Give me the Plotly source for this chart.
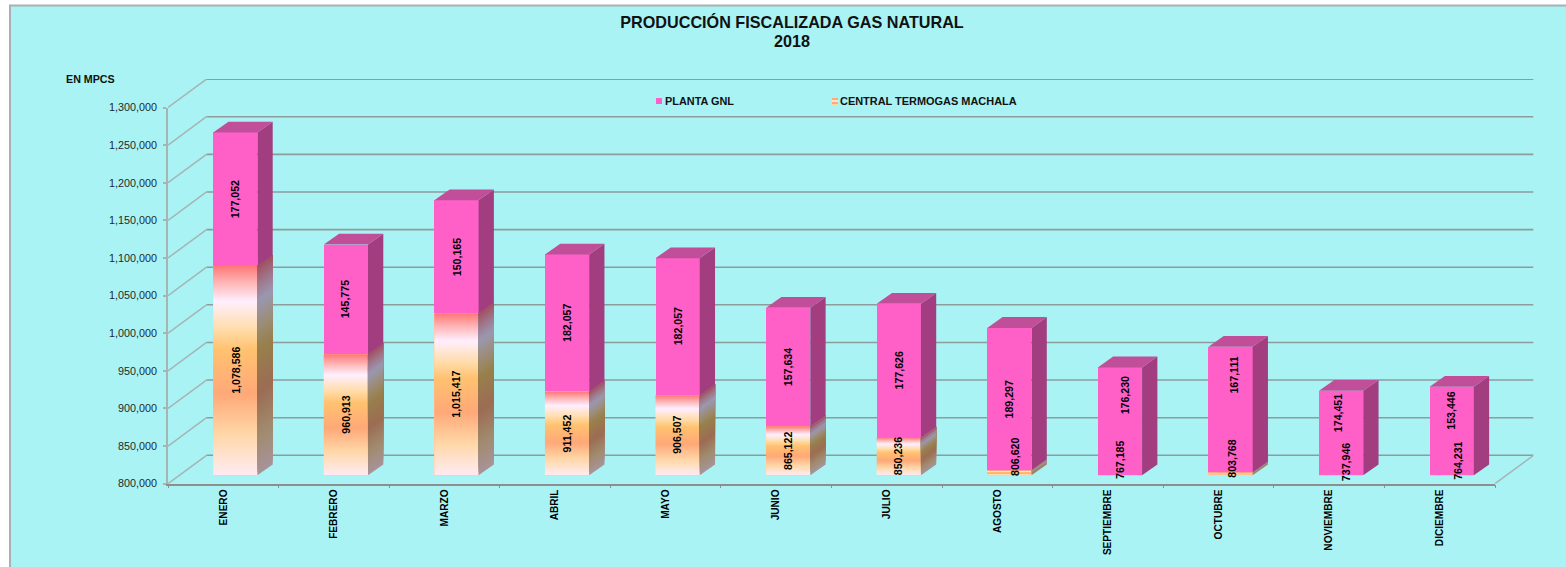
import plotly.graph_objects as go

# ---- data ----
months = ["ENERO", "FEBRERO", "MARZO", "ABRIL", "MAYO", "JUNIO", "JULIO", "AGOSTO",
          "SEPTIEMBRE", "OCTUBRE", "NOVIEMBRE", "DICIEMBRE"]
termogas = [1078586, 960913, 1015417, 911452, 906507, 865122, 850236, 806620,
            767185, 803768, 737946, 764231]
planta_gnl = [177052, 145775, 150165, 182057, 182057, 157634, 177626, 189297,
              176230, 167111, 174451, 153446]
y_ticks = [800000, 850000, 900000, 950000, 1000000, 1050000, 1100000, 1150000,
           1200000, 1250000, 1300000]

# ---- label nudges in pixels (hand-moved labels in the original) ----
low_dx = [0, 0, 0, 0, 0, 0, 0, 5.8, 0, 1.3, 5, 6.4]
low_dy = [0, 0, 0, 0, 0, 0, 0, -16, -15.3, -15, -13.3, -14.6]
top_dx = [0, 0, 0, 0, 0, 0, 0, 0, 5, 3, -3, -1]
top_dy = [0, 0, 0, 0, 0, 0, 0, 0, -26, -34.6, -20, -20]

# ---- geometry (pixels) ----
W, H = 1566, 567
FX0, FX1, FY0, FY1 = 168, 1495, 483.7, 107.5      # front plane of the axes
WALL_DX, WALL_DY = 38.5, 28.4                     # depth of the whole box
BAR_DX, BAR_DY = 12, 8.4                          # bar front plane offset
SIDE_DX, SIDE_DY = 15.3, 10.8                     # bar depth
YMIN, YMAX = y_ticks[0], y_ticks[-1]
PX_PER_CAT = (FX1 - FX0) / len(months)
PX_PER_VAL = (FY0 - FY1) / (YMAX - YMIN)
BAR_W = 0.40
XMIN, XMAX = -0.5, len(months) - 0.5


def px(x):
    return x / W


def py(y):
    return 1 - y / H


def dom_x(shift):
    return [px(FX0 + shift), px(FX1 + shift)]


def dom_y(shift):
    return [py(FY0 - shift), py(FY1 - shift)]


# ---- colours ----
BG = "#A9F3F5"
PINK = "#FF60C8"
PINK_SIDE = "#A23D80"
PINK_TOP = "#C04E98"
GRID = "#8E9C9C"
DIAG = "#A6B4B4"
FRONT_SCALE = [[0, "#FFE9F2"], [0.06, "#FFE6DC"], [0.2, "#FFD6A6"], [0.39, "#FFA878"],
               [0.6, "#FFC270"], [0.7, "#FFDDAC"], [0.83, "#FFEFFF"], [0.92, "#FFB4B4"],
               [1, "#FF7676"]]
SIDE_SCALE = [[0, "#A8939A"], [0.2, "#A08A6C"], [0.39, "#9C6C54"], [0.6, "#98804C"],
              [0.7, "#9C8C74"], [0.83, "#9A98B0"], [0.92, "#A07488"], [1, "#A05060"]]


def shade(scale, t):
    """Colour at position t of a [[pos, '#rrggbb'], ...] scale."""
    for (p0, c0), (p1, c1) in zip(scale, scale[1:]):
        if t <= p1:
            f = (t - p0) / (p1 - p0)
            a = [int(c0[j:j + 2], 16) for j in (1, 3, 5)]
            b = [int(c1[j:j + 2], 16) for j in (1, 3, 5)]
            return "rgb(%d,%d,%d)" % tuple(round(u + (w - u) * f) for u, w in zip(a, b))
    return scale[-1][1]


fig = go.Figure()

# wall subplot: left wall receding lines, back wall grid, floor (coordinates of the back plane)
dx_w = WALL_DX / PX_PER_CAT
dy_w = WALL_DY / PX_PER_VAL
diag_x, diag_y, grid_x, grid_y = [], [], [], []
for v in y_ticks:
    diag_x += [XMIN - dx_w, XMIN, None]
    diag_y += [v - dy_w, v, None]
    grid_x += [XMIN, XMAX, None]
    grid_y += [v, v, None]
diag_x += [XMAX - dx_w, XMAX, None]
diag_y += [YMIN - dy_w, YMIN, None]
fig.add_trace(go.Scatter(x=grid_x, y=grid_y, mode="lines", cliponaxis=False, hoverinfo="skip",
                         line=dict(color=GRID, width=1.6), showlegend=False, xaxis="x", yaxis="y"))
fig.add_trace(go.Scatter(x=diag_x, y=diag_y, mode="lines", cliponaxis=False, hoverinfo="skip",
                         line=dict(color=DIAG, width=1.5), showlegend=False, xaxis="x", yaxis="y"))

# front axes subplot: carries the tick labels
fig.add_trace(go.Scatter(x=months, y=[None] * len(months), mode="markers", showlegend=False,
                         hoverinfo="skip", xaxis="x2", yaxis="y2"))

# bar subplot: real stacked bars
idx = list(range(len(months)))
fig.add_trace(go.Bar(x=idx, y=termogas, name="CENTRAL TERMOGAS MACHALA", width=BAR_W, hovertext=months,
                     marker=dict(color="#FFC090", line=dict(width=0)), showlegend=False,
                     xaxis="x3", yaxis="y3"))
fig.add_trace(go.Bar(x=idx, y=planta_gnl, name="PLANTA GNL", width=BAR_W, hovertext=months,
                     marker=dict(color=PINK, line=dict(width=0)), showlegend=False,
                     xaxis="x3", yaxis="y3"))

# depth in axis units
sdx = SIDE_DX / PX_PER_CAT
sdy = SIDE_DY / PX_PER_VAL
annotations = []


def poly(xs, ys, **kw):
    fig.add_trace(go.Scatter(x=xs, y=ys, mode="lines", fill="toself", line=dict(width=0),
                             hoverinfo="skip", showlegend=False, xaxis="x3", yaxis="y3", **kw))


FONT = "Liberation Sans, Arial"
for i, m in enumerate(months):
    lo = termogas[i]
    hi = lo + planta_gnl[i]
    vis = max(lo, YMIN)
    xl, xr = i - BAR_W / 2, i + BAR_W / 2
    if lo > YMIN:
        poly([xl, xr, xr, xl, xl], [YMIN, YMIN, lo, lo, YMIN],
             fillgradient=dict(type="vertical", colorscale=FRONT_SCALE))
        # side face: slanted colour bands that follow the parallelogram, base colour first
        span = lo - YMIN
        n = max(2, round(span * PX_PER_VAL / 3))
        for k in range(n):
            b = YMIN + span * k / n
            t = lo          # each band reaches the top and is overpainted by the next one
            poly([xr, xr + sdx, xr + sdx, xr, xr], [b, b + sdy, t + sdy, t, b],
                 fillcolor=shade(SIDE_SCALE, (k + 0.5) / n))
    poly([xr, xr + sdx, xr + sdx, xr, xr], [vis, vis + sdy, hi + sdy, hi, vis], fillcolor=PINK_SIDE)
    poly([xl, xr, xr + sdx, xl + sdx, xl], [hi, hi, hi + sdy, hi + sdy, hi], fillcolor=PINK_TOP)

    label = dict(xref="x3", yref="y3", x=i, showarrow=False, textangle=-90,
                 font=dict(family=FONT, size=10.6, color="#000000", weight="bold"))
    annotations.append(dict(label, y=(YMIN + vis) / 2, text=f"{lo:,}",
                            xshift=low_dx[i], yshift=-low_dy[i]))
    annotations.append(dict(label, y=(vis + hi) / 2, text=f"{planta_gnl[i]:,}",
                            xshift=top_dx[i], yshift=-top_dy[i]))

for text, x, y, anchor, size in [("EN MPCS", 90, 79, "center", 10.7),
                                 ("PLANTA GNL", 662.7, 101, "left", 10.9),
                                 ("CENTRAL TERMOGAS MACHALA", 838.4, 101, "left", 10.95),
                                 ("2018", 792, 41, "center", 16.2)]:
    annotations.append(dict(xref="paper", yref="paper", x=px(x), y=py(y), text=text, showarrow=False,
                            xanchor=anchor, yanchor="middle",
                            font=dict(family=FONT, size=size, color="#111111", weight="bold")))

shapes = [
    dict(type="rect", xref="paper", yref="paper", x0=px(10), x1=1, y0=0, y1=py(5.5), layer="below",
         fillcolor=BG, line=dict(width=0)),
    dict(type="line", xref="paper", yref="paper", x0=px(10), x1=px(10), y0=0, y1=py(5), layer="below",
         line=dict(color="#A9AFB2", width=2)),
    dict(type="line", xref="paper", yref="paper", x0=px(9), x1=1, y0=py(5.5), y1=py(5.5), layer="below",
         line=dict(color="#A9AFB2", width=2)),
    dict(type="rect", xref="paper", yref="paper", x0=px(656), x1=px(662), y0=py(104), y1=py(98),
         fillcolor=PINK, line=dict(width=0)),
]
for top, col in [(98, "#FFA878"), (100, "#FFE6D0"), (102, "#FFA878"), (104, "#FFD6A6")]:
    shapes.append(dict(type="rect", xref="paper", yref="paper", x0=px(832), x1=px(838),
                       y0=py(top + 2), y1=py(top), fillcolor=col, line=dict(width=0)))

tick_font = dict(family=FONT, size=10.8, color="#1E2A2A")
fig.update_layout(
    template="none",
    width=W, height=H, autosize=False,
    margin=dict(l=0, r=0, t=0, b=0, pad=0),
    paper_bgcolor="#FFFFFF", plot_bgcolor="rgba(0,0,0,0)",
    barmode="stack", showlegend=False,
    title=dict(text="PRODUCCIÓN FISCALIZADA GAS NATURAL", x=px(792), xanchor="center",
               y=py(22.5), yanchor="middle", automargin=False,
               font=dict(family=FONT, size=16.2, color="#111111", weight="bold")),
    # back wall and floor box
    xaxis=dict(domain=[px(FX0), px(FX1 + WALL_DX)], range=[XMIN - dx_w, XMAX], type="linear",
               visible=False, automargin=False, anchor="y"),
    yaxis=dict(domain=[py(FY0), py(FY1 - WALL_DY)], range=[YMIN - dy_w, YMAX], type="linear",
               visible=False, automargin=False, anchor="x"),
    # front plane axes
    xaxis2=dict(domain=dom_x(0), type="category", categoryorder="array", categoryarray=months,
                range=[XMIN, XMAX], showgrid=False, showline=True, linecolor="#8E8E8E", linewidth=1.5,
                ticks="outside", ticklen=3, tickwidth=1, tickcolor="#8E8E8E", tickson="boundaries",
                tickangle=-90, tickmode="array", tickvals=months, ticktext=months, automargin=False,
                tickfont=dict(family=FONT, size=10.1, color="#000000", weight="bold"), anchor="y2"),
    yaxis2=dict(domain=dom_y(0), range=[YMIN, YMAX], tickvals=y_ticks, tickformat=",d", type="linear",
                showgrid=False, zeroline=False, showline=True, linecolor=DIAG, linewidth=1.5,
                ticks="outside", ticklen=3, tickwidth=1.5, tickcolor=DIAG, ticklabelstandoff=4,
                automargin=False, tickfont=tick_font, anchor="x2"),
    # bar plane
    xaxis3=dict(domain=dom_x(BAR_DX), type="linear", range=[XMIN, XMAX], visible=False,
                automargin=False, anchor="y3"),
    yaxis3=dict(domain=dom_y(BAR_DY), type="linear", range=[YMIN, YMAX], visible=False,
                automargin=False, anchor="x3"),
    annotations=annotations, shapes=shapes,
)

fig.write_html("out.html", config={"displayModeBar": False},
               post_script="document.body.style.margin='0';document.documentElement.style.overflow='hidden';")
